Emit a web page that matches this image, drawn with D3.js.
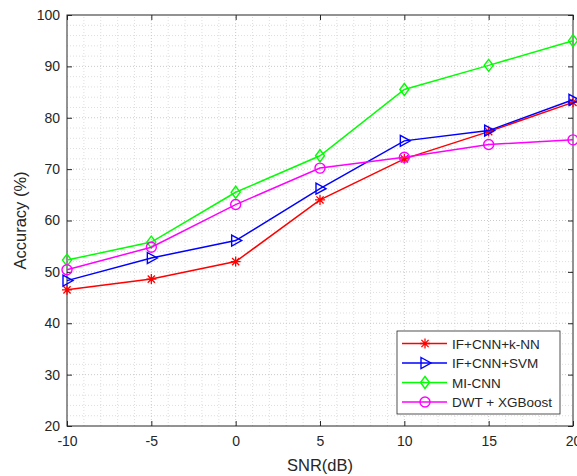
<!DOCTYPE html>
<html>
<head>
<meta charset="utf-8">
<script src="https://cdn.jsdelivr.net/npm/d3@7"></script>
<style>
  body { margin:0; background:#fff; }
  text { font-family: "Liberation Sans", Arial, sans-serif; fill:#262626; }
</style>
</head>
<body>
<div id="chart"></div>
<script>
var snr = [-10, -5, 0, 5, 10, 15, 20];
var knn = [46.5, 48.6, 52.0, 64.0, 72.0, 77.3, 83.0];
var svm = [48.3, 52.7, 56.1, 66.2, 75.5, 77.5, 83.5];
var micnn = [52.3, 55.8, 65.5, 72.6, 85.5, 90.2, 95.0];
var xgb = [50.4, 54.8, 63.1, 70.2, 72.3, 74.8, 75.7];
var seriesNames = ['IF+CNN+k-NN', 'IF+CNN+SVM', 'MI-CNN', 'DWT + XGBoost'];
var xTicks = [-10, -5, 0, 5, 10, 15, 20];
var yTicks = [20, 30, 40, 50, 60, 70, 80, 90, 100];

var W = 577, H = 476;
var margin = {top:15, right:4, bottom:50, left:67};

var svg = d3.select('#chart').append('svg').attr('width', W).attr('height', H);

var x = d3.scaleLinear().domain([-10, 20]).range([margin.left, W - margin.right]);
var y = d3.scaleLinear().domain([20, 100]).range([H - margin.bottom, margin.top]);

// grid: minor dotted, major dotted slightly darker
var grid = svg.append('g');
function vlines(vals, color) {
  grid.selectAll(null).data(vals).enter().append('line')
    .attr('x1', function(d){ return x(d); }).attr('x2', function(d){ return x(d); })
    .attr('y1', y(20)).attr('y2', y(100))
    .attr('stroke', color).attr('stroke-width', 0.8).attr('stroke-dasharray', '1,2');
}
function hlines(vals, color) {
  grid.selectAll(null).data(vals).enter().append('line')
    .attr('y1', function(d){ return y(d); }).attr('y2', function(d){ return y(d); })
    .attr('x1', x(-10)).attr('x2', x(20))
    .attr('stroke', color).attr('stroke-width', 0.8).attr('stroke-dasharray', '1,2');
}
vlines(d3.range(-9, 20).filter(function(d){ return d % 5 !== 0; }), '#d6d6d6');
hlines(d3.range(22, 100, 2).filter(function(d){ return d % 10 !== 0; }), '#d6d6d6');
vlines(xTicks.slice(1, -1), '#bcbcbc');
hlines(yTicks.slice(1, -1), '#bcbcbc');

// axes
var fmt = function(d){ return String(d); };
var xAxis = svg.append('g').attr('transform', 'translate(0,' + y(20) + ')')
  .call(d3.axisBottom(x).tickValues(xTicks).tickFormat(fmt).tickSizeInner(-5).tickSizeOuter(0).tickPadding(12));
var yAxis = svg.append('g').attr('transform', 'translate(' + x(-10) + ',0)')
  .call(d3.axisLeft(y).tickValues(yTicks).tickFormat(fmt).tickSizeInner(-5).tickSizeOuter(0).tickPadding(8));
svg.append('g').attr('transform', 'translate(0,' + y(100) + ')')
  .call(d3.axisTop(x).tickValues(xTicks).tickSizeInner(-5).tickSizeOuter(0).tickFormat(''));
svg.append('g').attr('transform', 'translate(' + x(20) + ',0)')
  .call(d3.axisRight(y).tickValues(yTicks).tickSizeInner(-5).tickSizeOuter(0).tickFormat(''));
svg.selectAll('.domain').remove();
svg.selectAll('.tick line').attr('stroke', '#262626');
[xAxis, yAxis].forEach(function(a){
  a.selectAll('text').attr('font-size', 14).attr('fill', '#262626')
    .attr('font-family', '"Liberation Sans", Arial, sans-serif');
});
xAxis.selectAll('text').attr('dy', '0.6em');
yAxis.selectAll('text').attr('x', -7);

svg.append('rect').attr('x', x(-10)).attr('y', y(100))
  .attr('width', x(20) - x(-10)).attr('height', y(20) - y(100))
  .attr('fill', 'none').attr('stroke', '#262626').attr('stroke-width', 1);

// axis labels
svg.append('text').attr('x', (x(-10) + x(20)) / 2).attr('y', 471)
  .attr('text-anchor', 'middle').attr('font-size', 16.5).text('SNR(dB)');
svg.append('text').attr('transform', 'translate(26,' + ((y(20) + y(100)) / 2) + ') rotate(-90)')
  .attr('text-anchor', 'middle').attr('font-size', 16.5).text('Accuracy (%)');

// markers
function marker(g, type, color) {
  if (type === 'star') {
    var r = 5, d = 3.6;
    g.append('path').attr('d', 'M' + -r + ',0H' + r + 'M0,' + -r + 'V' + r +
      'M' + -d + ',' + -d + 'L' + d + ',' + d + 'M' + -d + ',' + d + 'L' + d + ',' + -d)
      .attr('stroke', color).attr('stroke-width', 1.3).attr('fill', 'none');
  } else if (type === 'tri') {
    g.append('path').attr('d', 'M-4,-5.5L6,0L-4,5.5Z')
      .attr('stroke', color).attr('stroke-width', 1.4).attr('fill', 'none');
  } else if (type === 'dia') {
    g.append('path').attr('d', 'M0,-6L4.5,0L0,6L-4.5,0Z')
      .attr('stroke', color).attr('stroke-width', 1.4).attr('fill', 'none');
  } else {
    g.append('circle').attr('r', 5)
      .attr('stroke', color).attr('stroke-width', 1.4).attr('fill', 'none');
  }
}

var series = [
  {name: seriesNames[0], values: knn, color: '#ff0000', type: 'star'},
  {name: seriesNames[1], values: svm, color: '#0000ff', type: 'tri'},
  {name: seriesNames[2], values: micnn, color: '#00ff00', type: 'dia'},
  {name: seriesNames[3], values: xgb, color: '#ff00ff', type: 'circ'}
];

var line = d3.line().x(function(d){ return x(d[0]); }).y(function(d){ return y(d[1]); });
series.forEach(function(s){
  var pts = snr.map(function(v, j){ return [v, s.values[j]]; });
  svg.append('path').datum(pts).attr('d', line)
    .attr('fill', 'none').attr('stroke', s.color).attr('stroke-width', 1.5);
  pts.forEach(function(p){
    var g = svg.append('g').attr('transform', 'translate(' + x(p[0]) + ',' + y(p[1]) + ')');
    marker(g, s.type, s.color);
  });
});

// legend
var lg = svg.append('g').attr('transform', 'translate(397,331)');
lg.append('rect').attr('width', 163).attr('height', 83)
  .attr('fill', '#fff').attr('stroke', '#262626').attr('stroke-width', 0.8);
series.forEach(function(s, i){
  var yy = 12.5 + i * 19.5;
  lg.append('line').attr('x1', 5).attr('x2', 50).attr('y1', yy).attr('y2', yy)
    .attr('stroke', s.color).attr('stroke-width', 1.5);
  var g = lg.append('g').attr('transform', 'translate(28,' + yy + ')');
  marker(g, s.type, s.color);
  lg.append('text').attr('x', 55).attr('y', yy + 5)
    .attr('font-size', 13.5).text(s.name);
});
</script>
</body>
</html>
